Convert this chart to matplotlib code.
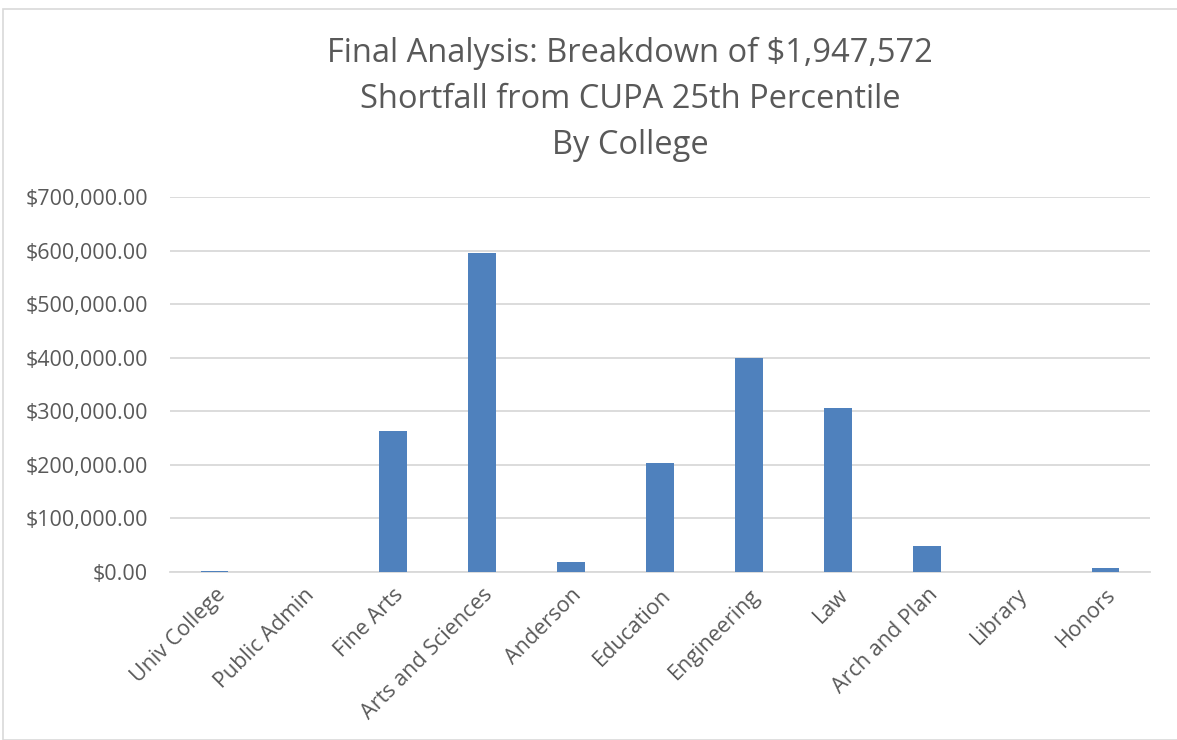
import numpy as np
import matplotlib.pyplot as plt
from matplotlib.ticker import FuncFormatter
from matplotlib.patches import Rectangle

# Datos
colleges = ['Univ College', 'Public Admin', 'Fine Arts', 'Arts and Sciences', 'Anderson',
            'Education', 'Engineering', 'Law', 'Arch and Plan', 'Library', 'Honors']
shortfall = [2400, 0, 263000, 596000, 18700, 203000, 399000, 307000, 48600, 0, 7500]

plt.rcParams['font.family'] = ['Open Sans', 'DejaVu Sans']
gris = '#595959'

fig = plt.figure(figsize=(11.77, 7.40), dpi=100)
ax = fig.add_axes([170 / 1177, 1 - 572 / 740, 980 / 1177, (572 - 197) / 740])

x = np.arange(len(colleges))
ax.bar(x, shortfall, width=0.31, color='#4f81bd', zorder=3)

ax.set_ylim(0, 700000)
ax.set_xlim(-0.5, len(colleges) - 0.5)
ax.set_yticks(np.arange(0, 700001, 100000))
ax.yaxis.set_major_formatter(FuncFormatter(lambda v, p: '${:,.2f}'.format(v)))
ax.grid(axis='y', color='#d9d9d9', linewidth=1.3, zorder=0)
ax.set_xticks(x)
ax.set_xticklabels(colleges, rotation=45, ha='right', rotation_mode='anchor')
ax.tick_params(axis='both', length=0, labelsize=15.5, labelcolor=gris)
ax.tick_params(axis='y', pad=16)
ax.tick_params(axis='x', pad=9)
for s in ['left', 'right', 'top']:
    ax.spines[s].set_visible(False)
ax.spines['bottom'].set_color('#d9d9d9')
ax.spines['bottom'].set_linewidth(1.3)

fig.text(630 / 1177, 1 - 99 / 740,
         'Final Analysis: Breakdown of $1,947,572\nShortfall from CUPA 25th Percentile\nBy College',
         ha='center', va='center', fontsize=23.5, color=gris, linespacing=1.52)

# Borde del grafico
fig.patches.append(Rectangle((3 / 1177, 0.0), 1.2, 1 - 9 / 740, transform=fig.transFigure,
                             fill=False, edgecolor='#d9d9d9', linewidth=1.2))

fig.savefig('out.png', dpi=100)
